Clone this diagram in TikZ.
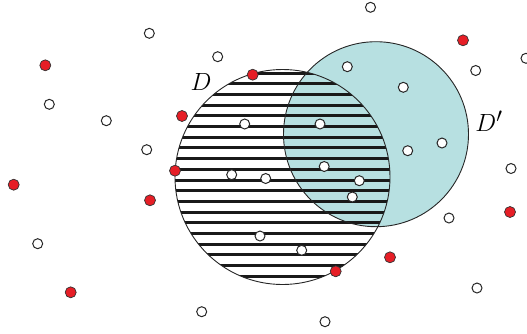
\documentclass[tikz,border=0pt]{standalone}
\usepackage{xcolor}
\usepackage{tikz}
\definecolor{SetTeal}{RGB}{183,224,225}
\definecolor{PtRed}{RGB}{230,30,38}

\begin{document}
\begin{tikzpicture}[x=1pt, y=-1pt,
          opt/.style={circle, draw=black!85, line width=1pt, fill=white,
                      minimum size=10pt, inner sep=0pt},
          rpt/.style={circle, draw=black!80, line width=0.7pt, fill=PtRed,
                      minimum size=11pt, inner sep=0pt},
          lbl/.style={font=\fontsize{29}{32}\selectfont}
        ]
        \useasboundingbox (0,0) rectangle (527,333);

        % Set D' (filled)
        \fill[SetTeal] (376,134.2) circle (92.5);

        % Set D (striped)
        \begin{scope}
          \clip (282.5,177) circle (107.5);
          \foreach \k in {0,...,19}
            \draw[line width=3pt, black!90] (170,73.3+10.67*\k) -- (395,73.3+10.67*\k);
        \end{scope}
        \draw[line width=0.9pt, black!85] (282.5,177) circle (107.5);
        \draw[line width=0.9pt, black!85] (376,134.2) circle (92.5);

        % Labels
        \node[lbl] (labD)  at (201,82)  {$D$};
        \node[lbl] (labDp) at (489,121) {$D'$};

        % Open points
        \node[opt] (o1)  at (370.5,7.3)   {};
        \node[opt] (o2)  at (149.3,33.3)  {};
        \node[opt] (o3)  at (217.7,56.7)  {};
        \node[opt] (o4)  at (347.3,66.7)  {};
        \node[opt] (o5)  at (475.7,70.5)  {};
        \node[opt] (o6)  at (526,58.3)    {};
        \node[opt] (o7)  at (49.3,104.3)  {};
        \node[opt] (o8)  at (106.3,120.7) {};
        \node[opt] (o9)  at (403.3,87.3)  {};
        \node[opt] (o10) at (244.7,124)   {};
        \node[opt] (o11) at (320,124)     {};
        \node[opt] (o12) at (146.7,149.7) {};
        \node[opt] (o13) at (407.7,150.7) {};
        \node[opt] (o14) at (442,143)     {};
        \node[opt] (o15) at (231.7,174.7) {};
        \node[opt] (o16) at (265.7,178.5) {};
        \node[opt] (o17) at (324.2,166.5) {};
        \node[opt] (o18) at (359.3,180.7) {};
        \node[opt] (o19) at (352.3,197)   {};
        \node[opt] (o20) at (511,168.5)   {};
        \node[opt] (o21) at (449,218)     {};
        \node[opt] (o22) at (37.7,243.7)  {};
        \node[opt] (o23) at (260,236)     {};
        \node[opt] (o24) at (301.7,250.3) {};
        \node[opt] (o25) at (477,288)     {};
        \node[opt] (o26) at (201.7,311.7) {};
        \node[opt] (o27) at (325,321.7)   {};

        % Red points
        \node[rpt] (r1)  at (45.3,65.3)   {};
        \node[rpt] (r2)  at (463,40.3)    {};
        \node[rpt] (r3)  at (252.7,74.7)  {};
        \node[rpt] (r4)  at (182,116)     {};
        \node[rpt] (r5)  at (13.7,184.7)  {};
        \node[rpt] (r6)  at (175,170.7)   {};
        \node[rpt] (r7)  at (150,200.3)   {};
        \node[rpt] (r8)  at (510,212)     {};
        \node[rpt] (r9)  at (390,257.3)   {};
        \node[rpt] (r10) at (335.7,271.3) {};
        \node[rpt] (r11) at (70.7,292.3)  {};
      \end{tikzpicture}
\end{document}
